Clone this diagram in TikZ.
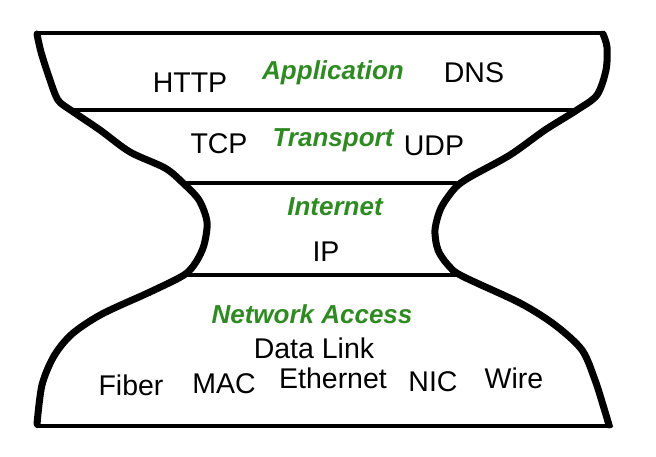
\documentclass[tikz,border=0pt]{standalone}
\usepackage{fontspec}
\setmainfont{Liberation Sans}
\usepackage{tikz}
\usetikzlibrary{calc, positioning}
\definecolor{layergreen}{RGB}{48,138,36}

\begin{document}
\begin{tikzpicture}[x=1pt, y=-1pt, inner sep=0pt, outer sep=0pt]

\tikzstyle{proto}=[anchor=base, text=black, font=\fontsize{28.5}{30}\selectfont]
\tikzstyle{layer}=[anchor=base, text=layergreen, font=\fontsize{26}{28}\selectfont\bfseries\itshape]
\tikzstyle{rim}=[line width=4pt, line cap=round]
\tikzstyle{side}=[line width=7pt, line cap=round, line join=round]

\useasboundingbox (0,0) rectangle (656,456);

% layer boundaries
\coordinate (tl) at (37,33);   \coordinate (tr) at (603,33);
\coordinate (al) at (72,110);  \coordinate (ar) at (577,110);
\coordinate (il) at (183,183); \coordinate (ir) at (456,183);
\coordinate (nl) at (185,275); \coordinate (nr) at (460,275);
\coordinate (bl) at (37,426);  \coordinate (br) at (611,426);

\draw[rim] (tl) -- (tr);
\draw[rim] (al) -- (ar);
\draw[rim] (il) -- (ir);
\draw[rim] (nl) -- (nr);
\draw[rim] (bl) -- (br);

% hourglass sides
\draw[side] plot[smooth, tension=0.5] coordinates {(37,34) (41,52) (49,77) (58,100) (72,111) (100,130) (130,152) (165,168) (183,183) (199,200) (207,222) (204,245) (196,262) (184,275) (150,292) (102,314) (72,334) (54,356) (42,385) (37,424)};
\draw[side] plot[smooth, tension=0.5] coordinates {(603,34) (607,47) (606,70) (597,95) (577,110) (545,130) (510,155) (470,177) (455,188) (441,208) (435,230) (438,250) (448,265) (462,276) (520,303) (555,325) (582,350) (595,380) (603,405) (609,425)};

% Application
\node[proto] (http) at (190,92) {HTTP};
\node[layer] (app) at (333,79) {Application};
\node[proto] (dns) at (474,82) {DNS};

% Transport
\node[proto] (tcp) at (219,153) {TCP};
\node[layer] (trans) at (333,146) {Transport};
\node[proto] (udp) at (434,155) {UDP};

% Internet
\node[layer] (inet) at (335,215) {Internet};
\node[proto] (ip) at (326,261) {IP};

% Network Access
\node[layer] (netacc) at (312,323) {Network Access};
\node[proto] (dlink) at (314,358) {Data Link};
\node[proto] (fiber) at (131,395) {Fiber};
\node[proto] (mac) at (224,393) {MAC};
\node[proto] (eth) at (333,388) {Ethernet};
\node[proto] (nic) at (433,391) {NIC};
\node[proto] (wire) at (514,388) {Wire};
\end{tikzpicture}
\end{document}
